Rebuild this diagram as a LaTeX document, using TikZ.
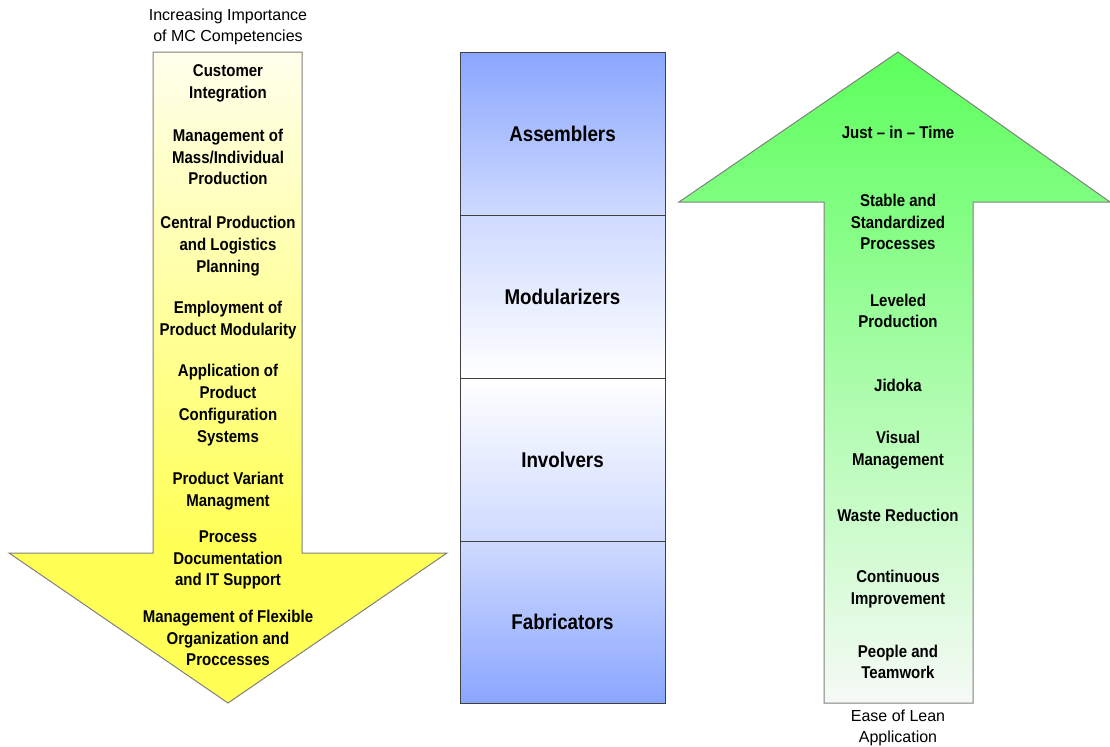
\documentclass[tikz,border=0pt]{standalone}
\usepackage{fontspec}
\usepackage{xcolor}
\setmainfont{Liberation Sans}
\newfontfamily\narrowfont[FakeStretch=0.88]{Liberation Sans}
\definecolor{paleyellow}{RGB}{255,255,236}
\definecolor{brightyellow}{RGB}{255,255,85}
\definecolor{brightgreen}{RGB}{92,255,92}
\definecolor{palegreen}{RGB}{246,250,246}
\definecolor{deepblue}{RGB}{138,166,255}
\definecolor{softblue}{RGB}{206,218,255}
\pgfdeclareverticalshading{yellowfade}{100bp}{color(0bp)=(brightyellow); color(37bp)=(brightyellow); color(75bp)=(paleyellow); color(100bp)=(paleyellow)}
\tikzset{
  item/.style={font=\narrowfont\bfseries\fontsize{12.8}{16.3}\selectfont, align=center, inner sep=0pt},
  bigitem/.style={font=\narrowfont\bfseries\fontsize{16}{19}\selectfont, inner sep=0pt},
  caption/.style={font=\fontsize{12}{15.8}\selectfont, align=center, inner sep=0pt},
  band/.style={draw=black!75, line width=0.75pt},
  outline/.style={draw=black!50, line width=0.75pt},
}

\begin{document}
\begin{tikzpicture}[x=0.75pt, y=-0.75pt]
	\useasboundingbox (0,0) rectangle (1110,746);

	% MC arrow (down)
	\shade[outline, shading=yellowfade] (153,52) -- (302,52) -- (302,553) -- (447,553)
		-- (228,703) -- (9,553) -- (153,553) -- cycle;
	\node[caption] (mc-title) at (228,26.5) {Increasing Importance\\of MC Competencies};
	\foreach \y/\txt [count=\i] in {83/{Customer\\Integration},
			157/{Management of\\Mass/Individual\\Production},
			246/{Central Production\\and Logistics\\Planning},
			320/{Employment of\\Product Modularity},
			405/{Application of\\Product\\Configuration\\Systems},
			491/{Product Variant\\Managment},
			560/{Process\\Documentation\\and IT Support},
			638/{Management of Flexible\\Organization and\\Proccesses}} {
		\node[item] (mc-\i) at (228,\y) {\txt};
	}

	% Producer types
	\foreach \ya/\yb/\tcol/\bcol/\lab in {52/215/deepblue/softblue/Assemblers,
			215/378/softblue/white/Modularizers,
			378/541/white/softblue/Involvers,
			541/703/softblue/deepblue/Fabricators} {
		\draw[band, top color=\tcol, bottom color=\bcol] (460,\ya) rectangle (665,\yb);
		\node[bigitem] (\lab) at (562.5,{(\ya+\yb)/2}) {\lab};
	}

	% Lean arrow (up)
	\shade[outline, top color=brightgreen, bottom color=palegreen] (898,52) -- (1110,202)
		-- (973,202) -- (973,703) -- (824,703) -- (824,202) -- (679,202) -- cycle;
	\node[caption] (lean-title) at (898,727.5) {Ease of Lean\\Application};
	\foreach \y/\txt [count=\i] in {132/{Just – in – Time},
			222/{Stable and\\Standardized\\Processes},
			311/{Leveled\\Production},
			385/{Jidoka},
			450/{Visual\\Management},
			515/{Waste Reduction},
			589/{Continuous\\Improvement},
			662/{People and\\Teamwork}} {
		\node[item] (lean-\i) at (898,\y) {\txt};
	}
\end{tikzpicture}
\end{document}
